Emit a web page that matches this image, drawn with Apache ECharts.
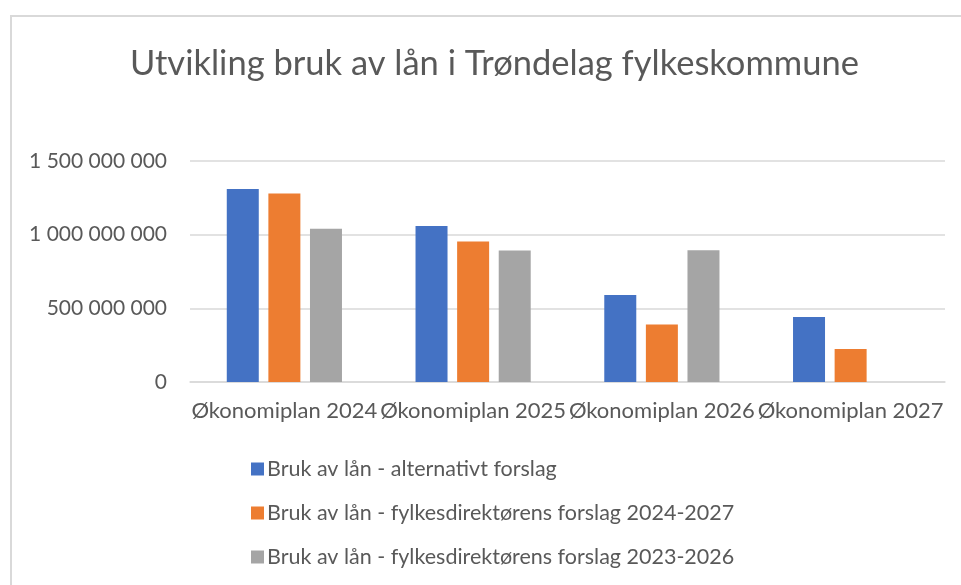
<!DOCTYPE html>
<html>
<head>
<meta charset="utf-8">
<script src="https://cdn.jsdelivr.net/npm/echarts@6/dist/echarts.min.js"></script>
<style>
html, body { margin: 0; padding: 0; background: #fff; }
#chart { width: 961px; height: 585px; }
</style>
</head>
<body>
<div id="chart"></div>
<script>
const categories = ['Økonomiplan 2024', 'Økonomiplan 2025', 'Økonomiplan 2026', 'Økonomiplan 2027'];
const series_names = [
    'Bruk av lån - alternativt forslag',
    'Bruk av lån - fylkesdirektørens forslag 2024-2027',
    'Bruk av lån - fylkesdirektørens forslag 2023-2026'
];
const alternativt = [1310000000, 1058000000, 590000000, 442000000];
const forslag_2024 = [1279000000, 954000000, 390000000, 224000000];
const forslag_2023 = [1040000000, 892000000, 894000000, null];
const colors = ['#4472c4', '#ed7d31', '#a5a5a5'];

const font = 'Lato, sans-serif';
const text_color = '#595959';

// thousands with spaces, like the Norwegian Excel format
function fmt_space(v) {
    return String(v).replace(/\B(?=(\d{3})+(?!\d))/g, ' ');
}

let chart = echarts.init(document.getElementById('chart'));
let data_sets = [alternativt, forslag_2024, forslag_2023];

let option = {
    animation: false,
    backgroundColor: '#fff',
    color: colors,
    title: {
        text: 'Utvikling bruk av lån i Trøndelag fylkeskommune',
        left: 125,
        top: 41,
        textStyle: { fontFamily: font, fontSize: 34.5, fontWeight: 'normal', color: text_color }
    },
    graphic: [{
        type: 'rect',
        shape: { x: 11, y: 16, width: 960, height: 600 },
        style: { fill: 'none', stroke: '#d9d9d9', lineWidth: 2 },
        silent: true
    }],
    legend: {
        orient: 'vertical',
        left: 246,
        top: 453,
        itemGap: 22,
        itemWidth: 13,
        itemHeight: 13,
        icon: 'rect',
        textStyle: { fontFamily: font, fontSize: 21.5, color: text_color, padding: [0, 0, 0, -2] },
        data: series_names
    },
    grid: { left: 190, right: 16, top: 161, bottom: 203, containLabel: false },
    xAxis: {
        type: 'category',
        data: categories,
        axisLine: { lineStyle: { color: '#d9d9d9', width: 1.5 } },
        axisTick: { show: false },
        axisLabel: { fontFamily: font, fontSize: 22, color: text_color, margin: 18, interval: 0 }
    },
    yAxis: {
        type: 'value',
        min: 0,
        max: 1500000000,
        interval: 500000000,
        axisLine: { show: false },
        axisTick: { show: false },
        splitLine: { lineStyle: { color: '#d9d9d9', width: 1.5 } },
        axisLabel: { fontFamily: font, fontSize: 21, color: text_color, margin: 23, formatter: fmt_space }
    },
    series: series_names.map((name, i) => ({
        name: name,
        type: 'bar',
        data: data_sets[i],
        barWidth: 32,
        barGap: '30%',
        itemStyle: { color: colors[i] }
    }))
};
chart.setOption(option);
</script>
</body>
</html>
